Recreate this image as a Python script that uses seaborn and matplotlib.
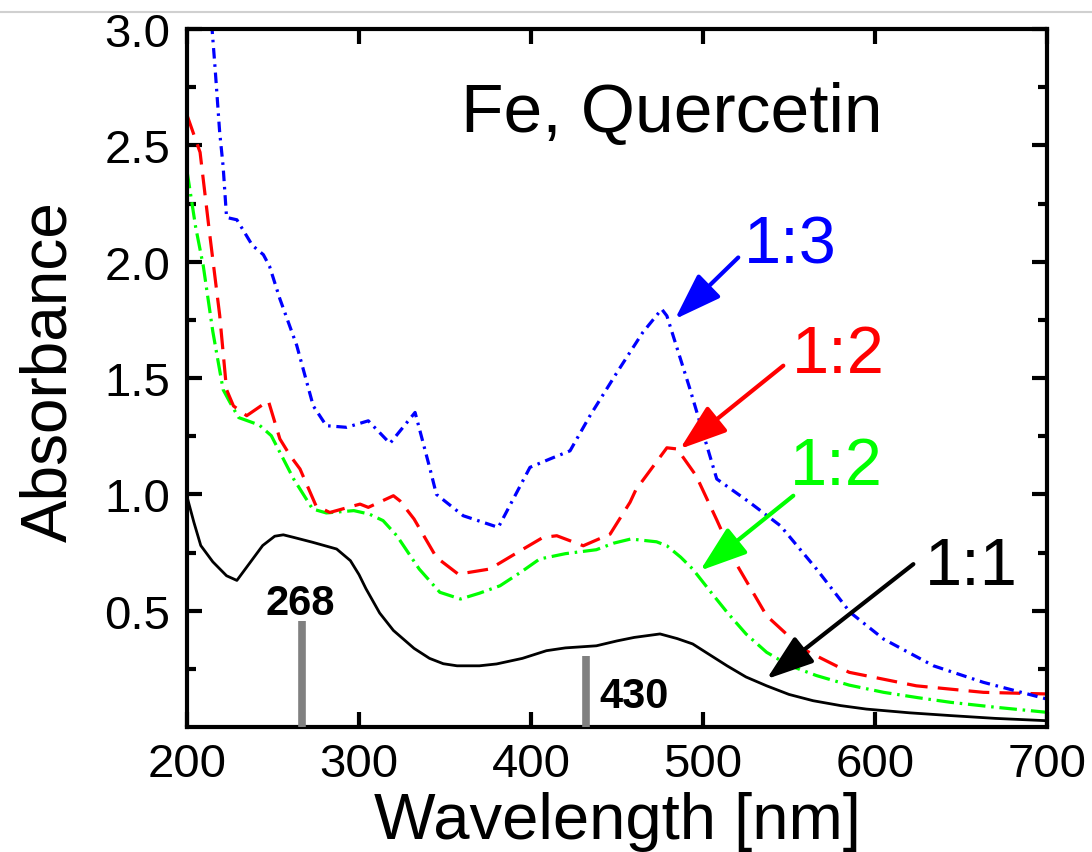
import numpy as np
import pandas as pd
import matplotlib
matplotlib.use("Agg")
import matplotlib.pyplot as plt
from matplotlib.lines import Line2D
import seaborn as sns

# Fe : quercetin UV-vis spectra
wl_11 = [200, 204, 208, 215, 223, 229, 236, 244, 251, 256, 262, 273, 287, 295,
         300, 304, 312, 320, 332, 341, 349, 357, 370, 380, 395, 409, 420, 438,
         450, 460, 475, 485, 494, 504, 514, 525, 537, 550, 564, 580, 595, 620,
         644, 670, 700]
abs_11 = [0.99, 0.88, 0.78, 0.71, 0.65, 0.63, 0.70, 0.78, 0.82, 0.826, 0.815,
          0.794, 0.765, 0.715, 0.655, 0.595, 0.49, 0.415, 0.338, 0.295, 0.272,
          0.263, 0.263, 0.271, 0.295, 0.328, 0.340, 0.349, 0.37, 0.385, 0.40,
          0.38, 0.357, 0.31, 0.263, 0.215, 0.177, 0.14, 0.113, 0.092, 0.077,
          0.061, 0.049, 0.037, 0.027]

wl_12g = [200, 205, 209.5, 215, 221, 225, 230, 242, 249, 256, 262, 273, 281,
          297, 306, 314, 322, 335, 347, 359, 370, 382, 395, 405, 420, 438, 448,
          458, 473, 479, 487, 494, 504, 514, 525, 537, 550, 566, 585, 605, 625,
          644, 670, 700]
abs_12g = [2.39, 2.15, 1.98, 1.70, 1.45, 1.395, 1.33, 1.298, 1.252, 1.152,
           1.066, 0.937, 0.92, 0.93, 0.915, 0.887, 0.822, 0.679, 0.579, 0.55,
           0.575, 0.607, 0.67, 0.722, 0.745, 0.762, 0.79, 0.808, 0.796, 0.779,
           0.73, 0.679, 0.585, 0.493, 0.40, 0.321, 0.265, 0.221, 0.18, 0.149,
           0.126, 0.106, 0.085, 0.063]

wl_12r = [200, 207.6, 213, 219, 223, 227, 234.7, 241, 247.3, 254, 260, 265.7,
          275, 283, 300.6, 305.4, 313, 320, 323.8, 332, 345, 357.7, 376, 395.5,
          407, 415, 430.4, 446, 457.6, 461, 470, 479, 485, 496, 508, 520, 537,
          558, 585, 624, 663, 700]
abs_12r = [2.63, 2.47, 2.13, 1.77, 1.45, 1.38, 1.338, 1.37, 1.402, 1.238,
           1.166, 1.109, 0.951, 0.922, 0.958, 0.944, 0.97, 0.994, 0.972, 0.894,
           0.729, 0.657, 0.679, 0.765, 0.815, 0.822, 0.779, 0.829, 0.966, 1.02,
           1.11, 1.20, 1.195, 1.08, 0.89, 0.693, 0.478, 0.335, 0.235, 0.177,
           0.149, 0.142]

wl_13 = [213, 216.3, 219, 221, 223, 229, 238, 244.4, 248, 254, 263.8, 273.4,
         281, 292.8, 305.4, 318, 332.6, 341.3, 345, 360.6, 381, 399.4, 411,
         422.7, 434.3, 450, 465, 476, 479, 492.4, 508, 527, 545, 566, 585.5,
         605, 634, 663, 700]
abs_13 = [3.15, 2.835, 2.556, 2.41, 2.19, 2.18, 2.07, 2.03, 1.98, 1.84, 1.64,
          1.38, 1.295, 1.288, 1.316, 1.219, 1.352, 1.109, 1.0, 0.908, 0.858,
          1.116, 1.152, 1.187, 1.338, 1.524, 1.696, 1.796, 1.767, 1.453, 1.066,
          0.966, 0.865, 0.679, 0.493, 0.378, 0.263, 0.192, 0.12]

# marked band positions (nm) and their bar heights
band_wl = [267, 432]
band_top = [0.455, 0.305]
band_text = ["268", "430"]

W, H = 1092, 853
FONT = ["Liberation Sans", "DejaVu Sans"]

sns.set_theme(style="ticks")
plt.rcParams["font.family"] = FONT
plt.rcParams["axes.linewidth"] = 3.0
for key in ["text.color", "axes.labelcolor", "xtick.color", "ytick.color",
            "axes.edgecolor"]:
    plt.rcParams[key] = "black"

fig = plt.figure(figsize=(W / 100, H / 100), dpi=100)
fig.patch.set_facecolor("white")
ax = fig.add_axes([187 / W, 1 - 728 / H, (1047 - 187) / W, (728 - 30) / H])
ax.set_facecolor("white")

series = [
    (wl_11, abs_11, "black", 2.0, "-"),
    (wl_12g, abs_12g, "#00ff00", 2.3, (0, (5.5, 1.8, 0.8, 1.8))),
    (wl_12r, abs_12r, "#ff0000", 2.3, (0, (6.5, 3.2))),
    (wl_13, abs_13, "#0000ff", 2.3, (0, (3.3, 1.8, 0.8, 1.8))),
]
for x, y, col, lw, ls in series:
    df = pd.DataFrame({"wl": x, "A": y})
    sns.lineplot(data=df, x="wl", y="A", ax=ax, color=col, lw=lw,
                 linestyle=ls, estimator=None, sort=False, legend=False)

# grey bars for the band positions
ax.vlines(band_wl, 0, band_top, colors="#808080", lw=5.5, zorder=3)
ax.text(band_wl[0] - 1, 0.486, band_text[0], ha="center", va="baseline",
        fontsize=30, fontweight="bold", color="black")
ax.text(band_wl[1] + 7.5, 0.085, band_text[1], ha="left", va="baseline",
        fontsize=30, fontweight="bold", color="black")

ax.text(482, 2.563, "Fe, Quercetin", ha="center", va="baseline", fontsize=50)

# ratio labels with arrows: (text, colour, text x, text baseline, tail, head)
labels = [
    ("1:3", "#0000ff", 550.6, 1.998, (520.5, 2.018), (483.7, 1.753)),
    ("1:2", "#ff0000", 578.5, 1.527, (546.7, 1.553), (486.6, 1.195)),
    ("1:2", "#00ff00", 577.6, 1.044, (552.5, 0.994), (498.3, 0.672)),
    ("1:1", "black", 655.8, 0.615, (622.3, 0.70), (537.0, 0.206)),
]
for txt, col, tx, ty, tail, head in labels:
    ax.text(tx, ty, txt, color=col, ha="center", va="baseline", fontsize=48)
    ax.annotate("", xy=head, xytext=tail,
                arrowprops=dict(arrowstyle="-|>,head_length=1.45,head_width=0.5",
                                color=col, lw=3, shrinkA=0, shrinkB=0,
                                mutation_scale=20))

ax.set_xlim(200, 700)
ax.set_ylim(0, 3.0)
ax.set_xticks([200, 300, 400, 500, 600, 700])
ax.set_yticks([0.5, 1.0, 1.5, 2.0, 2.5, 3.0])
ax.set_yticks([0.25, 0.75, 1.25, 1.75, 2.25, 2.75], minor=True)
ax.set_yticklabels(["0.5", "1.0", "1.5", "2.0", "2.5", "3.0"])
ax.tick_params(axis="both", which="major", direction="in", length=11, width=3,
               labelsize=34, top=True, right=True, color="black",
               labelcolor="black")
ax.tick_params(axis="x", which="major", pad=11)
ax.tick_params(axis="y", which="major", pad=12)
ax.tick_params(axis="y", which="minor", direction="in", length=6.5, width=3,
               right=True, color="black")
for s in ax.spines.values():
    s.set_color("black")
    s.set_linewidth(3.0)

ax.set_xlabel("Wavelength [nm]", fontsize=47, color="black")
ax.set_ylabel("Absorbance", fontsize=46, color="black")
ax.xaxis.set_label_coords(0.5, -0.092)
ax.yaxis.set_label_coords(-0.125, 0.51)

# light grey rule along the top edge of the screenshot
fig.add_artist(Line2D([0, 1], [1 - 13 / H, 1 - 13 / H], transform=fig.transFigure,
                      color="#d0d0d0", lw=1.5))

fig.savefig("out.png", dpi=100, facecolor="white")
